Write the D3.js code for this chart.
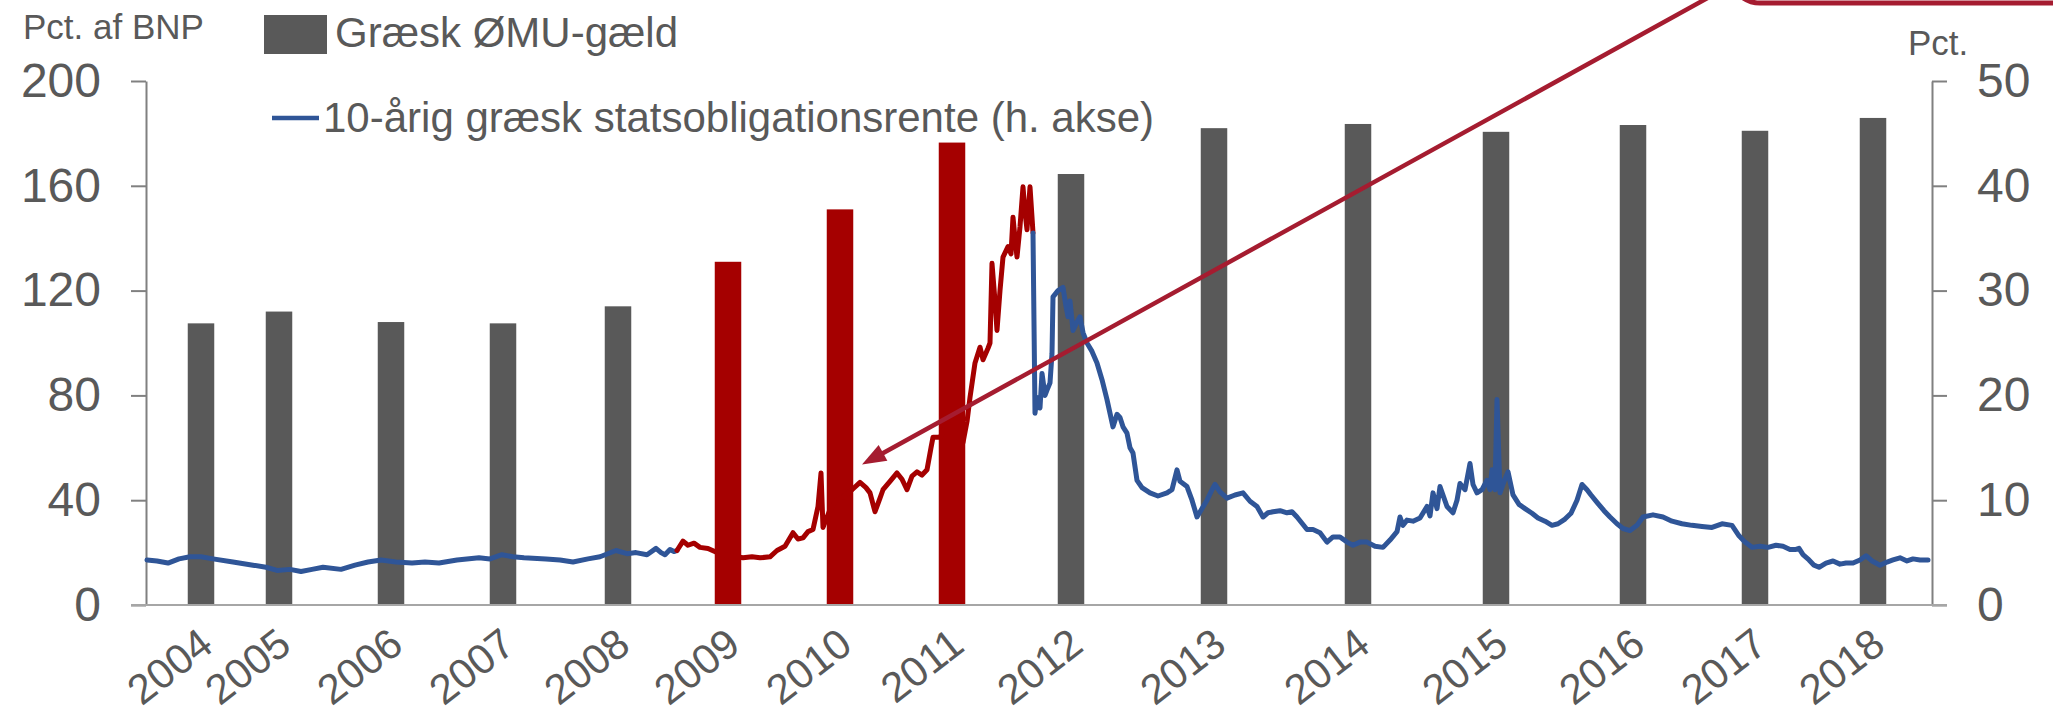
<!DOCTYPE html>
<html>
<head>
<meta charset="utf-8">
<script src="https://cdn.jsdelivr.net/npm/d3@7"></script>
<style>
  html, body { margin: 0; padding: 0; background: #fff; }
  svg { display: block; font-family: "Liberation Sans", Arial, sans-serif; }
</style>
</head>
<body>
<div id="grafico"></div>
<script>
// Bar categories (years), their position on the observation axis and the debt in pct. of GDP
const years = ["2004", "2005", "2006", "2007", "2008", "2009", "2010", "2011", "2012", "2013", "2014", "2015", "2016", "2017", "2018"];
const barObs = [55, 133, 245, 357, 472, 582, 694, 806, 925, 1068, 1212, 1350, 1487, 1609, 1727];
const debt = [107.5, 112, 108, 107.5, 114, 131, 151, 176.5, 164.5, 182, 183.6, 180.6, 183.2, 181, 185.9];
const highlightYears = ["2009", "2010", "2011"];

// 10-year Greek government bond yield (right axis), observation index and value
const renteObs = [1, 11, 22, 33, 44, 55, 67, 87, 107, 120, 131, 144, 155, 166, 177, 195, 209, 222, 235, 250, 266, 279, 293, 311, 333, 344, 356, 367, 378, 400, 414, 427, 442, 454, 470, 481, 490, 501, 510, 515, 519, 524, 528,
  531, 537, 542, 548, 554, 562, 571, 584, 597, 606, 614, 624, 631, 639, 647, 652, 657, 662, 667, 672, 675, 677, 684, 690, 697, 706, 714, 720, 724, 729, 734, 737, 744, 751, 756, 761, 766, 771, 776, 781, 785, 787, 794, 797, 801, 807, 812, 817, 821, 824, 829, 834, 837, 842, 844, 846, 849, 851, 854, 857, 862, 865, 867, 869, 871, 874, 877, 879, 881, 884, 886,
  887, 889, 891, 894, 896, 899, 901, 904, 906, 907, 912, 917, 920, 922, 924, 927, 931, 934, 937, 941, 946, 951, 956, 961, 967, 971, 974, 977, 981, 984, 987, 991, 996, 1004, 1012, 1021, 1026, 1031, 1034, 1041, 1046, 1051, 1056, 1061, 1066, 1069, 1074, 1081, 1089, 1097, 1104, 1111, 1117, 1122, 1127, 1134, 1141, 1146, 1151, 1156, 1161, 1167, 1174, 1181, 1187, 1194, 1201, 1207, 1214, 1221, 1229, 1237, 1244, 1251, 1254, 1257, 1261, 1267, 1274, 1281, 1284, 1287, 1291, 1294, 1301, 1307, 1311, 1314, 1319, 1324, 1327, 1331, 1336, 1341, 1344, 1346, 1349, 1351, 1354, 1358, 1362, 1367, 1373, 1379, 1386, 1392, 1399, 1406, 1412, 1419, 1425, 1431, 1436, 1441, 1445, 1451, 1458, 1464, 1471, 1477, 1484, 1491, 1497, 1507, 1517, 1526, 1536, 1546, 1556, 1566, 1576, 1586, 1593, 1599, 1606, 1614, 1622, 1630, 1637, 1644, 1650, 1653, 1657, 1663, 1668, 1673, 1680, 1687, 1694, 1700, 1707, 1714, 1720, 1726, 1734, 1741, 1747, 1754, 1761, 1767, 1774, 1782];
const renteVal = [4.3, 4.2, 4.0, 4.4, 4.6, 4.6, 4.4, 4.1, 3.8, 3.6, 3.3, 3.4, 3.2, 3.4, 3.6, 3.4, 3.8, 4.1, 4.3, 4.1, 4.0, 4.1, 4.0, 4.3, 4.5, 4.4, 4.8, 4.6, 4.5, 4.4, 4.3, 4.1, 4.4, 4.6, 5.2, 4.9, 5.0, 4.8, 5.4, 5.0, 4.8, 5.3, 5.1,
  5.2, 6.1, 5.7, 5.9, 5.5, 5.4, 5.0, 4.7, 4.5, 4.6, 4.5, 4.6, 5.2, 5.6, 6.9, 6.3, 6.4, 7.0, 7.2, 9.4, 12.6, 7.4, 9.1, 10.0, 10.3, 11.0, 11.7, 11.2, 10.7, 8.9, 10.2, 11.0, 11.8, 12.6, 12.0, 11.0, 12.3, 12.7, 12.4, 12.9, 15.0, 16.0, 16.0, 16.5, 17.4, 16.7, 16.0, 15.5, 17.5, 19.8, 23.1, 24.6, 23.4, 24.5, 25.0, 32.6, 29.0, 26.2, 30.0, 33.2, 34.2, 33.5, 37.0, 35.0, 33.2, 36.1, 39.9, 37.5, 35.8, 39.9, 37.0,
  35.5, 18.3, 19.8, 18.8, 22.1, 20.0, 20.5, 21.2, 24.0, 29.4, 30.0, 30.3, 28.5, 27.5, 29.0, 26.2, 27.0, 27.5, 26.0, 25.0, 24.2, 23.1, 21.5, 19.6, 17.0, 18.2, 17.9, 17.0, 16.4, 15.0, 14.5, 11.9, 11.2, 10.7, 10.4, 10.7, 11.0, 12.9, 11.8, 11.3, 10.0, 8.4, 9.2, 10.0, 11.0, 11.5, 10.8, 10.2, 10.5, 10.7, 9.9, 9.4, 8.4, 8.8, 8.9, 9.0, 8.8, 8.9, 8.4, 7.8, 7.2, 7.2, 6.9, 6.0, 6.5, 6.5, 6.0, 5.7, 6.0, 6.0, 5.6, 5.5, 6.2, 7.0, 8.4, 7.6, 8.1, 8.0, 8.3, 9.4, 8.5, 10.7, 9.2, 11.3, 9.4, 8.8, 10.0, 11.6, 11.0, 13.5, 11.5, 10.7, 11.0, 11.9, 11.0, 12.9, 11.0, 19.6, 10.7, 11.8, 12.7, 10.5, 9.6, 9.2, 8.75, 8.3, 8.0, 7.6, 7.75, 8.2, 8.75, 10.0, 11.5, 11.0, 10.5, 9.8, 9.0, 8.4, 7.75, 7.3, 7.1, 7.6, 8.4, 8.6, 8.4, 8.0, 7.75, 7.6, 7.5, 7.4, 7.75, 7.6, 6.6, 6.0, 5.5, 5.6, 5.5, 5.7, 5.6, 5.3, 5.3, 5.4, 4.8, 4.3, 3.8, 3.6, 4.0, 4.2, 3.9, 4.0, 4.0, 4.3, 4.7, 4.2, 3.8, 4.1, 4.3, 4.5, 4.2, 4.4, 4.3, 4.3];
// crisis period drawn in red (observation range)
const crisisStart = 531;
const crisisEnd = 887;

const leftTicks = [0, 40, 80, 120, 160, 200];
const rightTicks = [0, 10, 20, 30, 40, 50];

const width = 2053;
const height = 718;
const plotLeft = 146;
const plotRight = 1932;
const plotTop = 81;
const plotBottom = 605;

const grey = "#595959";
const red = "#A50000";
const blue = "#2F5597";
const annot = "#A51C30";

const svg = d3.select("#grafico")
  .append("svg")
  .attr("width", width)
  .attr("height", height)
  .attr("viewBox", [0, 0, width, height]);

const x = d3.scaleLinear().domain([0, 1786]).range([plotLeft, plotRight]);
const yLeft = d3.scaleLinear().domain([0, 200]).range([plotBottom, plotTop]);
const yRight = d3.scaleLinear().domain([0, 50]).range([plotBottom, plotTop]);

const barWidth = 26.5;

// Bars
svg.append("g")
  .selectAll("rect")
  .data(years)
  .join("rect")
  .attr("x", (d, i) => x(barObs[i]) - barWidth / 2)
  .attr("y", (d, i) => yLeft(debt[i]))
  .attr("width", barWidth)
  .attr("height", (d, i) => yLeft(0) - yLeft(debt[i]))
  .attr("fill", (d) => (highlightYears.includes(d) ? red : grey));

// Axes
const styleAxis = (g) => {
  g.select(".domain").attr("stroke", "#808080").attr("stroke-width", 2);
  g.selectAll(".tick line").attr("stroke", "#808080").attr("stroke-width", 2);
  g.selectAll(".tick text")
    .attr("fill", grey)
    .attr("font-size", 48)
    .attr("font-family", "'Liberation Sans', Arial, sans-serif");
};

svg.append("g")
  .attr("transform", `translate(${plotLeft},0)`)
  .call(d3.axisLeft(yLeft).tickValues(leftTicks).tickSize(15).tickSizeOuter(0).tickPadding(30))
  .call(styleAxis);

svg.append("g")
  .attr("transform", `translate(${plotRight},0)`)
  .call(d3.axisRight(yRight).tickValues(rightTicks).tickSize(15).tickSizeOuter(0).tickPadding(30))
  .call(styleAxis);

// Baseline
svg.append("line")
  .attr("x1", plotLeft - 15)
  .attr("x2", plotRight + 15)
  .attr("y1", yLeft(0))
  .attr("y2", yLeft(0))
  .attr("stroke", "#a6a6a6")
  .attr("stroke-width", 2);

// Year labels, rotated
const xAxis = svg.append("g")
  .attr("transform", `translate(0,${plotBottom})`)
  .call(d3.axisBottom(x).tickValues(barObs).tickSize(0).tickFormat((d, i) => years[i]));
xAxis.select(".domain").remove();
xAxis.selectAll(".tick text")
  .attr("fill", grey)
  .attr("font-size", 42)
  .attr("font-family", "'Liberation Sans', Arial, sans-serif")
  .attr("text-anchor", "end")
  .attr("dy", 0)
  .attr("y", 0)
  .attr("transform", "translate(14,44) rotate(-38)");

// Yield line
const points = renteObs.map((o, i) => ({ obs: o, v: renteVal[i] }));
const line = d3.line().x((d) => x(d.obs)).y((d) => yRight(d.v));

const segments = [
  { data: points.filter((d) => d.obs <= crisisStart), color: blue },
  { data: points.filter((d) => d.obs >= crisisStart && d.obs <= crisisEnd), color: red },
  { data: points.filter((d) => d.obs >= crisisEnd), color: blue }
];

svg.append("g")
  .attr("fill", "none")
  .attr("stroke-width", 5)
  .attr("stroke-linejoin", "round")
  .attr("stroke-linecap", "round")
  .selectAll("path")
  .data(segments)
  .join("path")
  .attr("stroke", (d) => d.color)
  .attr("d", (d) => line(d.data));

// Axis titles
svg.append("text")
  .attr("x", 23)
  .attr("y", 39)
  .attr("font-size", 35)
  .attr("fill", grey)
  .text("Pct. af BNP");

svg.append("text")
  .attr("x", 1908)
  .attr("y", 55)
  .attr("font-size", 35)
  .attr("fill", grey)
  .text("Pct.");

// Legend
const legend = svg.append("g");
legend.append("rect")
  .attr("x", 264)
  .attr("y", 15)
  .attr("width", 63)
  .attr("height", 39)
  .attr("fill", grey);
legend.append("text")
  .attr("x", 335)
  .attr("y", 47)
  .attr("font-size", 42)
  .attr("fill", grey)
  .text("Græsk ØMU-gæld");
legend.append("line")
  .attr("x1", 272)
  .attr("x2", 319)
  .attr("y1", 118)
  .attr("y2", 118)
  .attr("stroke", blue)
  .attr("stroke-width", 4.5);
legend.append("text")
  .attr("x", 323)
  .attr("y", 132)
  .attr("font-size", 42)
  .attr("fill", grey)
  .text("10-årig græsk statsobligationsrente (h. akse)");

// Annotation: arrow to the crisis and the edge of a callout box
const tip = [x(716), yRight(13.4)];
const start = [1722, -10];
svg.append("line")
  .attr("x1", start[0])
  .attr("y1", start[1])
  .attr("x2", tip[0] + 14)
  .attr("y2", tip[1] - 7.5)
  .attr("stroke", annot)
  .attr("stroke-width", 4.5);

const ang = Math.atan2(start[1] - tip[1], start[0] - tip[0]);
const headLen = 24;
const headHalf = 9;
const bx = tip[0] + headLen * Math.cos(ang);
const by = tip[1] + headLen * Math.sin(ang);
svg.append("polygon")
  .attr("points", [
    tip,
    [bx - headHalf * Math.sin(ang), by + headHalf * Math.cos(ang)],
    [bx + headHalf * Math.sin(ang), by - headHalf * Math.cos(ang)]
  ].map((p) => p.join(",")).join(" "))
  .attr("fill", annot);

svg.append("rect")
  .attr("x", 1730)
  .attr("y", -100)
  .attr("width", 420)
  .attr("height", 103)
  .attr("rx", 30)
  .attr("fill", "#fff")
  .attr("stroke", annot)
  .attr("stroke-width", 5);
</script>
</body>
</html>
